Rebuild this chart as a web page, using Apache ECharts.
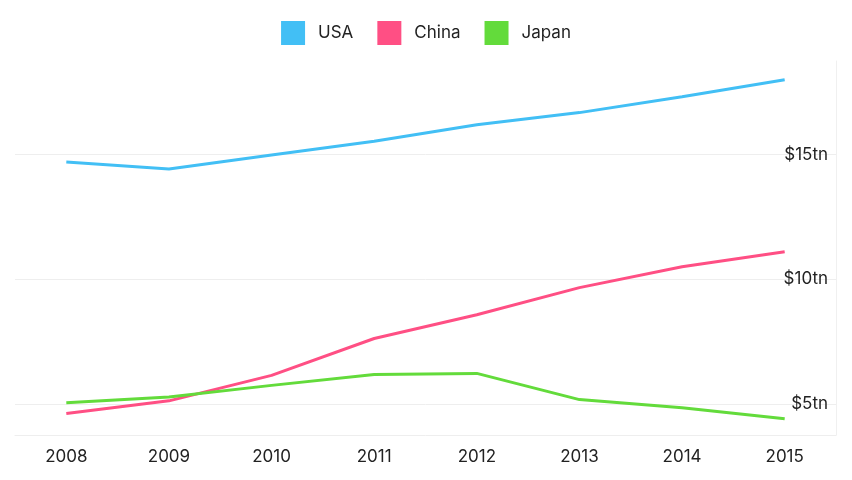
<!DOCTYPE html>
<html>
<head>
<meta charset="utf-8">
<script src="https://cdn.jsdelivr.net/npm/echarts@6/dist/echarts.min.js"></script>
<style>html,body{margin:0;padding:0;background:#fff;}#c{width:852px;height:480px;}</style>
</head>
<body>
<div id="c"></div>
<script>
const years = ['2008','2009','2010','2011','2012','2013','2014','2015'];
const usa   = [14.70, 14.42, 14.98, 15.53, 16.19, 16.68, 17.32, 18.00];
const china = [4.61, 5.12, 6.14, 7.62, 8.57, 9.66, 10.50, 11.10];
const japan = [5.04, 5.27, 5.74, 6.18, 6.22, 5.17, 4.84, 4.40];
const yLabels = [5, 10, 15];

const FONT = 'Inter, Roboto, "Noto Sans", sans-serif';
const chart = echarts.init(document.getElementById('c'));
const mk = (name, data, color) => ({
  name, type: 'line', data, symbol: 'none', smooth: false,
  lineStyle: { width: 3, color }, itemStyle: { color }
});
chart.setOption({
  animation: false,
  legend: {
    top: 16, left: 'center', itemWidth: 24, itemHeight: 24, itemGap: 24,
    icon: 'rect',
    textStyle: { fontSize: 17, color: '#222', fontFamily: FONT, padding: [0, 0, 0, 8] }
  },
  grid: { left: 15, right: 16, top: 61, bottom: 45 },
  xAxis: {
    type: 'category', data: years, boundaryGap: true,
    axisLine: { show: true, lineStyle: { color: '#eeeeee', width: 1 } },
    axisTick: { show: false },
    axisLabel: { fontSize: 17, color: '#222', fontFamily: FONT, margin: 13 }
  },
  yAxis: {
    type: 'value', position: 'right', min: 3.75, max: 18.75, interval: 1.25,
    axisLine: { show: true, lineStyle: { color: '#f0f0f0', width: 1 } },
    axisTick: { show: false },
    splitLine: { show: true, lineStyle: { color: ['rgba(0,0,0,0)', '#eeeeee', 'rgba(0,0,0,0)', 'rgba(0,0,0,0)'], width: 1 } },
    axisLabel: {
      inside: true, margin: 8, fontSize: 17, color: '#222', fontFamily: FONT,
      showMinLabel: false, showMaxLabel: false,
      formatter: v => yLabels.some(t => Math.abs(t - v) < 1e-6) ? '$' + Math.round(v) + 'tn' : ''
    }
  },
  series: [
    mk('USA', usa, '#42bff5'),
    mk('China', china, '#ff4f84'),
    mk('Japan', japan, '#63db3b')
  ]
});
</script>
</body>
</html>
